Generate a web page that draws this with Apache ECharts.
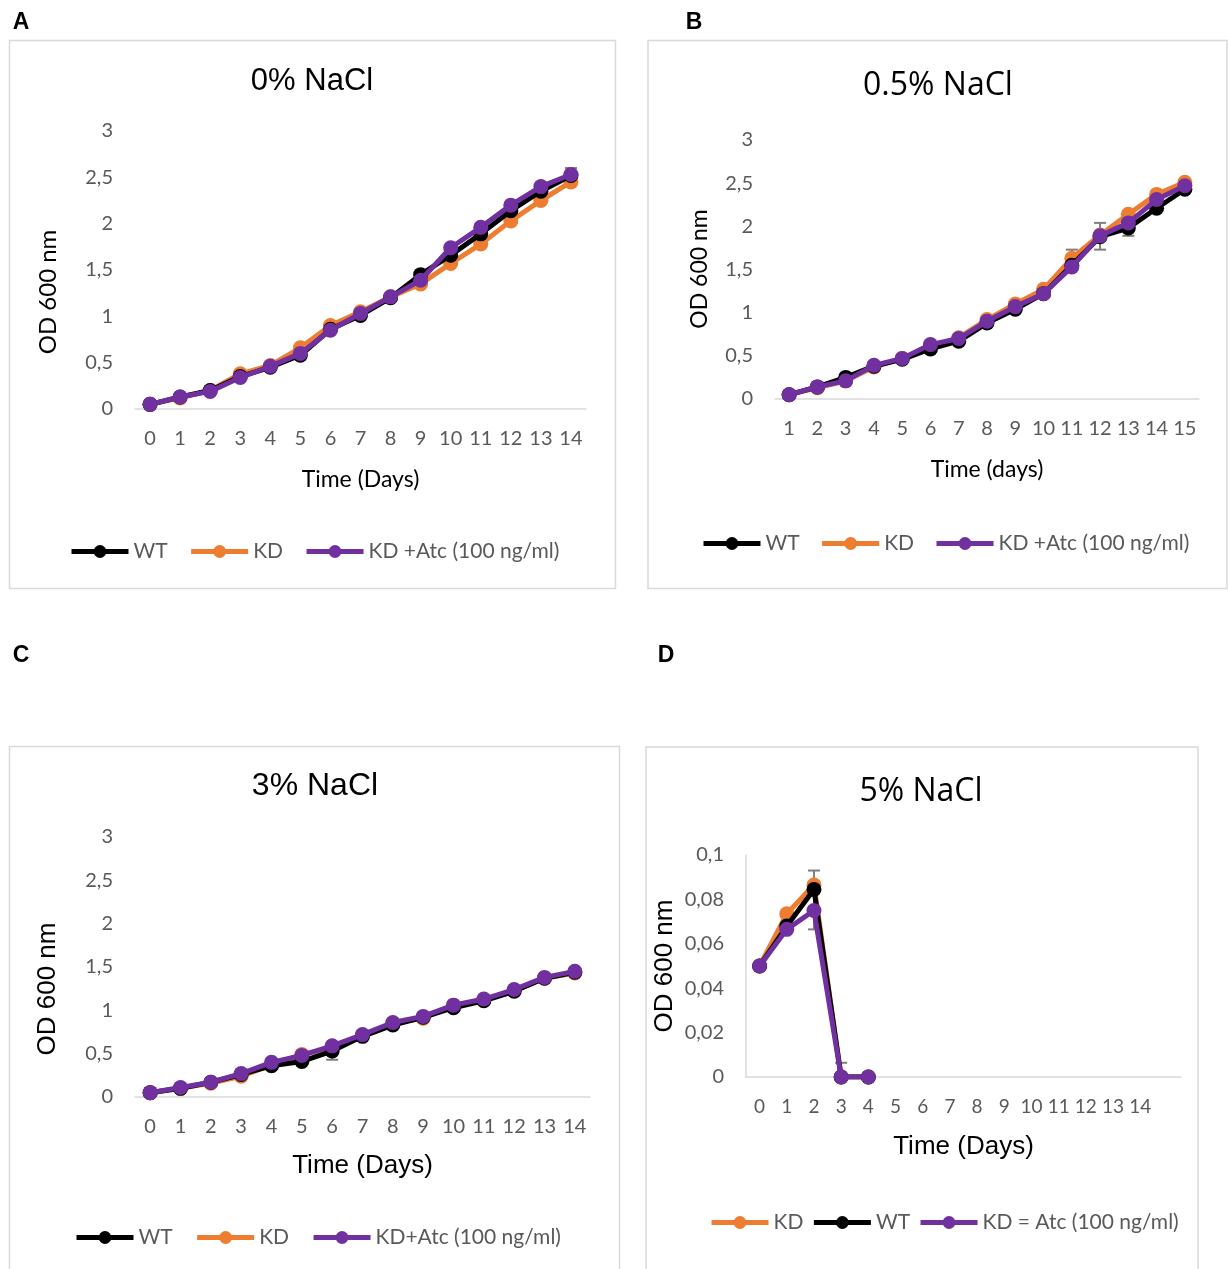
<!DOCTYPE html>
<html>
<head>
<meta charset="utf-8">
<script src="https://cdn.jsdelivr.net/npm/echarts@6/dist/echarts.min.js"></script>
<style>
html,body{margin:0;padding:0;background:#fff;}
#chart{width:1228px;height:1269px;}
</style>
</head>
<body>
<div id="chart"></div>
<script>
// ---------- data ----------
const daysA = ['0','1','2','3','4','5','6','7','8','9','10','11','12','13','14'];
const wtA  = [0.05, 0.13, 0.20, 0.35, 0.45, 0.58, 0.86, 1.01, 1.20, 1.45, 1.66, 1.89, 2.14, 2.35, 2.52];
const kdA  = [0.05, 0.12, 0.20, 0.38, 0.47, 0.66, 0.90, 1.05, 1.21, 1.35, 1.57, 1.78, 2.03, 2.25, 2.45];
const atcA = [0.05, 0.13, 0.19, 0.34, 0.46, 0.60, 0.85, 1.03, 1.21, 1.39, 1.74, 1.96, 2.20, 2.40, 2.53];
const errA = [[14, 2.47, 2.60]];

const daysB = ['1','2','3','4','5','6','7','8','9','10','11','12','13','14','15'];
const wtB  = [0.05, 0.14, 0.25, 0.38, 0.46, 0.58, 0.67, 0.88, 1.04, 1.22, 1.55, 1.88, 1.98, 2.21, 2.43];
const kdB  = [0.05, 0.13, 0.21, 0.37, 0.47, 0.60, 0.71, 0.92, 1.10, 1.27, 1.63, 1.90, 2.14, 2.37, 2.51];
const atcB = [0.05, 0.14, 0.21, 0.39, 0.47, 0.63, 0.70, 0.90, 1.07, 1.22, 1.53, 1.89, 2.04, 2.31, 2.47];
const errB = [[11, 1.53, 1.73], [12, 1.73, 2.04], [13, 1.89, 2.07]];

const daysC = ['0','1','2','3','4','5','6','7','8','9','10','11','12','13','14'];
const wtC  = [0.05, 0.10, 0.17, 0.26, 0.36, 0.41, 0.53, 0.70, 0.83, 0.92, 1.03, 1.11, 1.22, 1.37, 1.44];
const kdC  = [0.05, 0.10, 0.16, 0.24, 0.37, 0.49, 0.57, 0.71, 0.85, 0.91, 1.06, 1.12, 1.23, 1.37, 1.43];
const atcC = [0.05, 0.11, 0.17, 0.27, 0.40, 0.48, 0.59, 0.72, 0.86, 0.93, 1.06, 1.13, 1.24, 1.38, 1.45];
const errC = [[6, 0.43, 0.57]];

const daysD = ['0','1','2','3','4','5','6','7','8','9','10','11','12','13','14',''];
const kdD  = [0.05, 0.0735, 0.0865, 0, 0];
const wtD  = [0.05, 0.068, 0.0845, 0, 0];
const atcD = [0.05, 0.0665, 0.075, 0, 0];
const errD = [[2, 0.0665, 0.093], [3, 0, 0.0064]];

const titles = ['0% NaCl', '0.5% NaCl', '3% NaCl', '5% NaCl'];
const xTitles = ['Time (Days)', 'Time (days)', 'Time (Days)', 'Time (Days)'];
const yTitle = 'OD 600 nm';
const namesAB = ['WT', 'KD', 'KD +Atc (100 ng/ml)'];
const namesC = ['WT', 'KD', 'KD+Atc (100 ng/ml)'];
const namesD = ['KD', 'WT', 'KD = Atc (100 ng/ml)'];

// ---------- styling ----------
const C_WT = '#000000', C_KD = '#ED7D31', C_ATC = '#7030A0';
const GRAY = '#595959', LINE = '#D9D9D9';
const TICK_FONT = 'Lato, "Open Sans", sans-serif';
const ARIAL = '"Liberation Sans", Arial, sans-serif';
const OPEN = '"Open Sans", sans-serif';

const chart = echarts.init(document.getElementById('chart'), null, {renderer: 'canvas'});

const grids = [
  {left: 135, top: 131, width: 451, height: 278},
  {left: 775, top: 140, width: 424, height: 259},
  {left: 135, top: 837, width: 455, height: 260},
  {left: 746, top: 855, width: 435, height: 222}
];

function fmt(v) { return String(+v.toFixed(4)).replace('.', ','); }

function xAxis(i, cats, nameGap, nameSize, nameFont, labelSize) {
  return {
    type: 'category', gridIndex: i, data: cats, boundaryGap: true,
    axisLine: {lineStyle: {color: LINE, width: 1.5}},
    axisTick: {show: false},
    axisLabel: {color: GRAY, fontFamily: TICK_FONT, fontSize: labelSize, margin: 20, interval: 0},
    name: xTitles[i], nameLocation: 'middle', nameGap: nameGap,
    nameTextStyle: {color: '#000', fontFamily: nameFont, fontSize: nameSize}
  };
}
function yAxis(i, max, interval, showLine) {
  return {
    type: 'value', gridIndex: i, min: 0, max: max, interval: interval,
    splitLine: {show: false},
    axisLine: {show: showLine, lineStyle: {color: LINE, width: 1.5}},
    axisTick: {show: false},
    axisLabel: {color: GRAY, fontFamily: TICK_FONT, fontSize: 20, margin: 22, formatter: fmt}
  };
}
function lineSeries(name, color, data, gi, z) {
  return {
    type: 'line', name: name, data: data, xAxisIndex: gi, yAxisIndex: gi,
    symbol: 'circle', symbolSize: 15, showAllSymbol: true,
    lineStyle: {color: color, width: 5},
    itemStyle: {color: color},
    z: z, animation: false
  };
}
function errSeries(gi, cats, errs) {
  return {
    type: 'custom', xAxisIndex: gi, yAxisIndex: gi, z: 1, animation: false,
    data: errs.map(e => [cats.indexOf(String(e[0])), e[1], e[2]]),
    renderItem: function (params, api) {
      const x = api.value(0);
      const lo = api.coord([x, api.value(1)]);
      const hi = api.coord([x, api.value(2)]);
      const w = 6;
      const st = {stroke: '#7F7F7F', lineWidth: 2};
      return {type: 'group', children: [
        {type: 'line', shape: {x1: lo[0], y1: lo[1], x2: hi[0], y2: hi[1]}, style: st},
        {type: 'line', shape: {x1: lo[0] - w, y1: lo[1], x2: lo[0] + w, y2: lo[1]}, style: st},
        {type: 'line', shape: {x1: hi[0] - w, y1: hi[1], x2: hi[0] + w, y2: hi[1]}, style: st}
      ]};
    }
  };
}
function legend(names, left, top, gap) {
  return {
    data: names, left: left, top: top, padding: 0, orient: 'horizontal',
    itemWidth: 57, itemHeight: 16, itemGap: gap,
    lineStyle: {width: 5},
    textStyle: {color: GRAY, fontFamily: TICK_FONT, fontSize: 21}
  };
}
function title(text, cx, top, font, size) {
  return {text: text, left: cx, top: top, textAlign: 'center', padding: 0,
    textStyle: {color: '#000', fontFamily: font, fontSize: size, fontWeight: 'normal', lineHeight: size}};
}
function txt(text, x, y, font, size, weight, rot) {
  return {type: 'text', x: x, y: y, rotation: rot || 0, silent: true,
    style: {text: text, fill: '#000', font: (weight || 'normal') + ' ' + size + 'px ' + font,
      textAlign: 'center', textVerticalAlign: 'middle'}};
}
function box(x, y, w, h) {
  return {type: 'rect', shape: {x: x, y: y, width: w, height: h}, silent: true, z: -10,
    style: {fill: null, stroke: LINE, lineWidth: 1.5}};
}

const option = {
  backgroundColor: '#fff',
  animation: false,
  grid: grids,
  title: [
    title(titles[0], 312, 66, ARIAL, 31),
    title(titles[1], 938, 70, OPEN, 32),
    title(titles[2], 315, 770, ARIAL, 32),
    title(titles[3], 921, 776, OPEN, 32)
  ],
  legend: [
    legend(namesAB, 69, 541, 21),
    legend(namesAB, 701, 533, 20),
    legend(namesC, 74, 1227, 22),
    legend(namesD, 709, 1212, 8)
  ],
  xAxis: [
    xAxis(0, daysA, 59, 23, TICK_FONT, 20),
    xAxis(1, daysB, 59, 23, TICK_FONT, 20),
    xAxis(2, daysC, 56, 26, ARIAL, 20),
    xAxis(3, daysD, 57, 26, ARIAL, 19)
  ],
  yAxis: [
    yAxis(0, 3, 0.5, false),
    yAxis(1, 3, 0.5, false),
    yAxis(2, 3, 0.5, false),
    yAxis(3, 0.1, 0.02, true)
  ],
  series: [
    errSeries(0, daysA, errA),
    lineSeries(namesAB[1], C_KD, kdA, 0, 2),
    lineSeries(namesAB[0], C_WT, wtA, 0, 3),
    lineSeries(namesAB[2], C_ATC, atcA, 0, 4),

    errSeries(1, daysB, errB),
    lineSeries(namesAB[1], C_KD, kdB, 1, 2),
    lineSeries(namesAB[0], C_WT, wtB, 1, 3),
    lineSeries(namesAB[2], C_ATC, atcB, 1, 4),

    errSeries(2, daysC, errC),
    lineSeries(namesC[1], C_KD, kdC, 2, 2),
    lineSeries(namesC[0], C_WT, wtC, 2, 3),
    lineSeries(namesC[2], C_ATC, atcC, 2, 4),

    errSeries(3, daysD, errD),
    lineSeries(namesD[0], C_KD, kdD, 3, 2),
    lineSeries(namesD[1], C_WT, wtD, 3, 3),
    lineSeries(namesD[2], C_ATC, atcD, 3, 4)
  ],
  graphic: [
    box(9.5, 40.5, 606, 548),
    box(648, 40.5, 579, 548),
    box(9.5, 746.5, 610, 600),
    box(646, 747, 552, 600),
    txt('A', 21, 23, ARIAL, 23, 'bold'),
    txt('B', 694, 23, ARIAL, 23, 'bold'),
    txt('C', 21, 656, ARIAL, 23, 'bold'),
    txt('D', 666, 656, ARIAL, 23, 'bold'),
    txt(yTitle, 48, 292, TICK_FONT, 24, 'normal', Math.PI / 2),
    txt(yTitle, 700, 269, TICK_FONT, 23, 'normal', Math.PI / 2),
    txt(yTitle, 48, 989, ARIAL, 26, 'normal', Math.PI / 2),
    txt(yTitle, 665, 966, ARIAL, 26, 'normal', Math.PI / 2)
  ]
};
chart.setOption(option);
</script>
</body>
</html>
